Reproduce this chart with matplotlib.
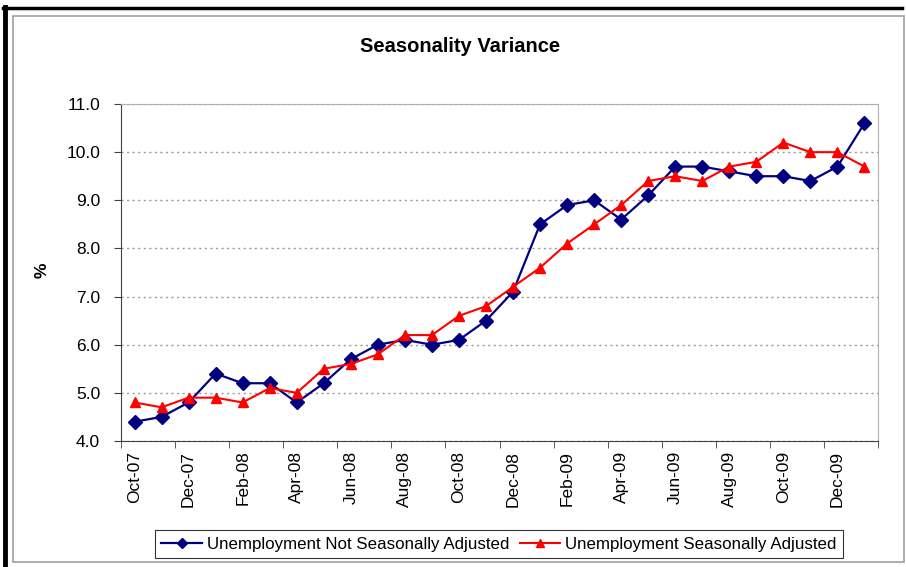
import numpy as np
import matplotlib
matplotlib.use("Agg")
import matplotlib.pyplot as plt
from matplotlib.patches import Rectangle
from matplotlib.lines import Line2D

plt.rcParams['font.family'] = ['Liberation Sans', 'DejaVu Sans']

# monthly data, Oct-07 .. Jan-10
months = ['Oct-07', 'Nov-07', 'Dec-07', 'Jan-08', 'Feb-08', 'Mar-08', 'Apr-08',
          'May-08', 'Jun-08', 'Jul-08', 'Aug-08', 'Sep-08', 'Oct-08', 'Nov-08',
          'Dec-08', 'Jan-09', 'Feb-09', 'Mar-09', 'Apr-09', 'May-09', 'Jun-09',
          'Jul-09', 'Aug-09', 'Sep-09', 'Oct-09', 'Nov-09', 'Dec-09', 'Jan-10']
not_adj = [4.4, 4.5, 4.8, 5.4, 5.2, 5.2, 4.8, 5.2, 5.7, 6.0, 6.1, 6.0, 6.1, 6.5,
           7.1, 8.5, 8.9, 9.0, 8.6, 9.1, 9.7, 9.7, 9.6, 9.5, 9.5, 9.4, 9.7, 10.6]
seas_adj = [4.8, 4.7, 4.9, 4.9, 4.8, 5.1, 5.0, 5.5, 5.6, 5.8, 6.2, 6.2, 6.6, 6.8,
            7.2, 7.6, 8.1, 8.5, 8.9, 9.4, 9.5, 9.4, 9.7, 9.8, 10.2, 10.0, 10.0, 9.7]
yticks = [4.0, 5.0, 6.0, 7.0, 8.0, 9.0, 10.0, 11.0]

W, H = 906, 567
fig = plt.figure(figsize=(W / 100, H / 100), dpi=100)

# outer frames (screenshot edge + chart border)
fig.patches.append(Rectangle((13 / W, 1 - 562 / H), (904 - 13) / W, (562 - 16) / H,
                             transform=fig.transFigure, fill=False,
                             edgecolor='#a0a0a0', linewidth=1.2))
fig.add_artist(Line2D([4.5 / W, 4.5 / W], [0, 1 - 7 / H], transform=fig.transFigure,
                      color='black', linewidth=3.5))
fig.add_artist(Line2D([3 / W, 902 / W], [1 - 8 / H, 1 - 8 / H], transform=fig.transFigure,
                      color='black', linewidth=2.5))

ax = fig.add_axes([121 / W, 1 - 441 / H, (878 - 121) / W, (441 - 104) / H])
x = np.arange(len(months))

ax.plot(x, not_adj, color='#000080', marker='D', markersize=7.5, linewidth=1.6,
        label='Unemployment Not Seasonally Adjusted', zorder=3)
ax.plot(x, seas_adj, color='#ff0000', marker='^', markersize=7.5, linewidth=1.5,
        label='Unemployment Seasonally Adjusted', zorder=3)

ax.set_xlim(-0.5, len(months) - 0.5)
ax.set_ylim(4.0, 11.0)
ax.set_yticks(yticks)
ax.set_yticklabels(['%.1f' % v for v in yticks], fontsize=12.5)
ax.yaxis.grid(True, linestyle=(0, (1.5, 2.5)), color='#999999', linewidth=1)
ax.set_axisbelow(True)

ax.set_xticks(x[::2])
ax.set_xticklabels(months[::2], rotation=90, fontsize=12.5)
ax.set_xticks(np.arange(-0.5, len(months), 2), minor=True)
ax.tick_params(axis='x', which='major', length=0, pad=7)
ax.tick_params(axis='x', which='minor', length=5, direction='out', color='#404040')
ax.tick_params(axis='y', length=5, direction='out', color='#404040', pad=10)

ax.spines['top'].set_color('#b0b0b0')
ax.spines['right'].set_color('#b0b0b0')
ax.spines['left'].set_color('#404040')
ax.spines['bottom'].set_color('#404040')

fig.text(42 / W, 1 - 270 / H, '%', rotation=90, ha='center', va='center',
         fontsize=12.5, fontweight='bold')
fig.text(460 / W, 1 - 46 / H, 'Seasonality Variance', ha='center', va='center',
         fontsize=14.5, fontweight='bold')

leg = fig.legend(loc='center', bbox_to_anchor=(499 / W, 1 - 544 / H), ncol=2,
                 fontsize=12.2, frameon=True, fancybox=False, edgecolor='black',
                 handlelength=2.4, handletextpad=0.3, columnspacing=0.6,
                 borderpad=0.4, markerscale=0.7)
leg.get_frame().set_linewidth(0.8)

fig.savefig('out.png', dpi=100)
